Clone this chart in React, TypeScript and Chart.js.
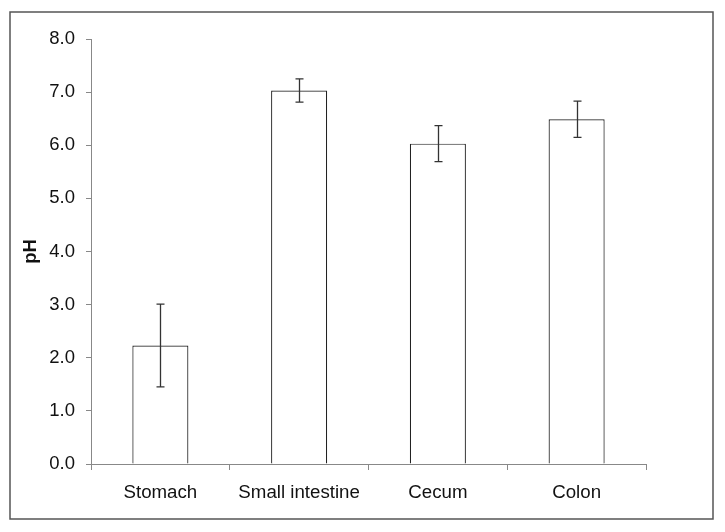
import React, { useEffect, useRef } from "react";
import { Chart, registerables } from "chart.js";

Chart.register(...registerables);

const categories = ["Stomach", "Small intestine", "Cecum", "Colon"];
const meanPH = [2.23, 7.03, 6.03, 6.49];
const errorPH = [0.78, 0.22, 0.34, 0.34];
const yTicks = [0, 1, 2, 3, 4, 5, 6, 7, 8];

const FONT = "'Liberation Sans', Arial, Helvetica, sans-serif";

const framePlugin = {
  id: "frame",
  beforeDraw(chart: any) {
    const ctx = chart.ctx;
    ctx.save();
    ctx.fillStyle = "#ffffff";
    ctx.fillRect(0, 0, chart.width, chart.height);
    ctx.strokeStyle = "#555555";
    ctx.lineWidth = 1.5;
    ctx.strokeRect(10, 12, 703, 507);
    ctx.restore();
  },
};

const errorBarPlugin = {
  id: "errorBars",
  afterDatasetsDraw(chart: any) {
    const ctx = chart.ctx;
    const meta = chart.getDatasetMeta(0);
    const y = chart.scales.y;
    ctx.save();
    ctx.strokeStyle = "#333333";
    ctx.lineWidth = 1.3;
    meta.data.forEach((bar: any, i: number) => {
      const x = Math.round(bar.x) + 0.5;
      const top = y.getPixelForValue(meanPH[i] + errorPH[i]);
      const bot = y.getPixelForValue(meanPH[i] - errorPH[i]);
      ctx.beginPath();
      ctx.moveTo(x, top);
      ctx.lineTo(x, bot);
      ctx.moveTo(x - 4, top);
      ctx.lineTo(x + 4, top);
      ctx.moveTo(x - 4, bot);
      ctx.lineTo(x + 4, bot);
      ctx.stroke();
    });
    ctx.restore();
  },
};

export default function App() {
  const ref = useRef<HTMLCanvasElement>(null);
  useEffect(() => {
    document.body.style.margin = "0";
    if (!ref.current) return;
    const chart = new Chart(ref.current, {
      type: "bar",
      data: {
        labels: categories,
        datasets: [
          {
            data: meanPH,
            backgroundColor: "#ffffff",
            borderColor: "#222222",
            borderWidth: 1.2,
            categoryPercentage: 1,
            barPercentage: 0.404,
          },
        ],
      },
      options: {
        responsive: false,
        animation: false,
        devicePixelRatio: 1,
        layout: { padding: { left: 20, top: 39, right: 79, bottom: 28 } },
        plugins: { legend: { display: false }, tooltip: { enabled: false } },
        scales: {
          x: {
            afterFit(scale: any) {
              scale.height = 40;
            },
            grid: {
              offset: true,
              drawOnChartArea: false,
              drawTicks: true,
              tickLength: 6,
              tickColor: "#888888",
            },
            border: { display: true, color: "#888888", width: 1 },
            ticks: {
              color: "#111111",
              padding: 12,
              font: { family: FONT, size: 18.7 },
            },
          },
          y: {
            min: 0,
            max: 8,
            afterFit(scale: any) {
              scale.width = 71;
            },
            afterBuildTicks(scale: any) {
              scale.ticks = yTicks.map((v) => ({ value: v }));
            },
            grid: {
              drawOnChartArea: false,
              drawTicks: true,
              tickLength: 5,
              tickColor: "#888888",
            },
            border: { display: true, color: "#888888", width: 1 },
            ticks: {
              color: "#111111",
              padding: 11,
              font: { family: FONT, size: 18.5 },
              callback: (v: any) => Number(v).toFixed(1),
            },
            title: {
              display: true,
              text: "pH",
              color: "#111111",
              padding: 0,
              font: { family: FONT, size: 18.5, weight: "bold" },
            },
          },
        },
      },
      plugins: [framePlugin, errorBarPlugin],
    });
    return () => chart.destroy();
  }, []);
  return (
    <div style={{ position: "absolute", left: 0, top: 0 }}>
      <canvas ref={ref} width={725} height={532} style={{ display: "block" }} />
    </div>
  );
}
